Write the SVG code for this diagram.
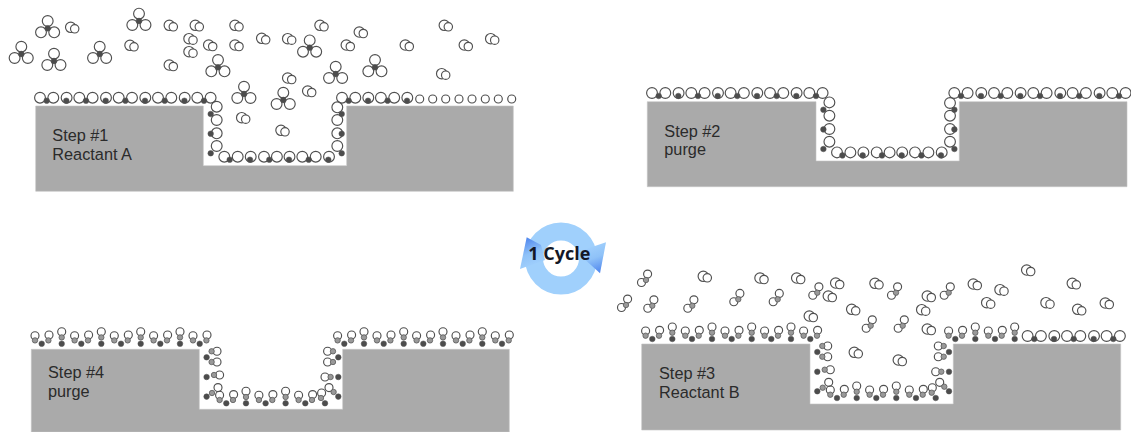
<svg xmlns="http://www.w3.org/2000/svg" width="1131" height="432" viewBox="0 0 1131 432">
<style>
.base{fill:#aaaaaa;stroke:#c4c4c4;stroke-width:.6}
.lbl{font-family:"Liberation Sans",Arial,sans-serif;font-size:16.3px;fill:#2b2b2b}
.r{fill:none;stroke:#505050;stroke-width:1.15}
.w{fill:#fff;stroke:#505050;stroke-width:1.15}
.d{fill:#4c4c4c;stroke:#555;stroke-width:.5}
.m{fill:#999;stroke:#5a5a5a;stroke-width:.8}
.cyc{font-family:"Open Sans","Liberation Sans",sans-serif;font-weight:700;font-size:18px;fill:#141826}
</style>
<defs>
<linearGradient id="hl" x1=".3" y1="0" x2=".6" y2="1"><stop offset="0" stop-color="#4f86ee"/><stop offset=".5" stop-color="#8fc2f8"/><stop offset="1" stop-color="#a4d2fd"/></linearGradient>
<linearGradient id="hr" x1=".4" y1="0" x2=".7" y2="1"><stop offset="0" stop-color="#a4d2fd"/><stop offset=".5" stop-color="#8fc2f8"/><stop offset="1" stop-color="#4f86ee"/></linearGradient>
<g id="g"><circle class="r" r="5.2"/><circle class="w" cx="4" cy="1.5" r="4.2"/></g>
<g id="t"><circle class="r" cy="-7.3" r="5.4"/><circle class="r" cx="-6.7" cy="4" r="5.4"/><circle class="r" cx="6.5" cy="4" r="5.4"/><circle class="d" r="2.9"/></g>
<g id="s"><circle class="r" cx="1.6" cy="-5.9" r="4"/><circle class="r" cx="-4.5" cy="2.5" r="4"/><circle class="m" r="2.7"/></g>
<g id="a1"><circle class="r" cx="-6.7" cy="-3" r="5.4"/><circle class="r" cx="6.6" cy="-3" r="5.4"/><circle class="d" r="2.8"/></g>
<g id="a2"><circle class="r" cx=".3" cy="-3" r="5.4"/><circle class="d" r="2.8"/></g>
<g id="b1"><circle class="r" cx="-6.7" cy="-8" r="4"/><circle class="m" cx="-6.7" cy="-3.3" r="2.7"/><circle class="r" cx="7.3" cy="-8.7" r="4"/><circle class="m" cx="6.7" cy="-3.3" r="2.7"/><circle class="d" r="2.8"/></g>
<g id="b2"><circle class="r" cy="-12" r="4"/><circle class="m" cy="-6.3" r="2.7"/><circle class="d" r="2.8"/></g>
<g id="ta">
<circle class="r" cx="13.4" cy=".7" r="5.4"/><circle class="r" cx="13.4" cy="14" r="5.4"/><circle class="r" cx="13.4" cy="27.3" r="5.4"/><circle class="r" cx="13.4" cy="40" r="5.4"/>
<circle class="d" cx="7.4" cy="8" r="2.8"/><circle class="d" cx="7.4" cy="27.7" r="2.8"/><circle class="d" cx="7.4" cy="47.3" r="2.8"/>
<circle class="r" cx="21" cy="50.7" r="5.4"/><circle class="r" cx="34.4" cy="50.7" r="5.4"/><circle class="r" cx="47.4" cy="50.7" r="5.4"/><circle class="r" cx="60.7" cy="50.7" r="5.4"/><circle class="r" cx="73.6" cy="50.7" r="5.4"/><circle class="r" cx="86.2" cy="50.7" r="5.4"/><circle class="r" cx="99" cy="50.7" r="5.4"/><circle class="r" cx="112.4" cy="50.7" r="5.4"/><circle class="r" cx="125.7" cy="50.7" r="5.4"/>
<circle class="d" cx="26.4" cy="53.7" r="2.8"/><circle class="d" cx="46.7" cy="53.7" r="2.8"/><circle class="d" cx="66" cy="53.7" r="2.8"/><circle class="d" cx="85.7" cy="53.7" r="2.8"/><circle class="d" cx="105.4" cy="53.7" r="2.8"/><circle class="d" cx="125" cy="53.7" r="2.8"/>
<circle class="r" cx="134" cy="1.3" r="5.4"/><circle class="r" cx="134" cy="14" r="5.4"/><circle class="r" cx="134" cy="27.3" r="5.4"/><circle class="r" cx="134" cy="40" r="5.4"/>
<circle class="d" cx="138.4" cy="8" r="2.8"/><circle class="d" cx="138.4" cy="27.7" r="2.8"/><circle class="d" cx="138.4" cy="47.3" r="2.8"/>
</g>
<g id="tb">
<circle class="r" cx="17.7" cy="2" r="4"/><circle class="r" cx="17.7" cy="12.7" r="4"/><circle class="m" cx="12.3" cy="2" r="2.7"/><circle class="m" cx="12.3" cy="12.7" r="2.7"/><circle class="d" cx="7.3" cy="8" r="2.8"/>
<circle class="r" cx="20.3" cy="25.7" r="4"/><circle class="m" cx="14.7" cy="25.7" r="2.7"/><circle class="d" cx="7.3" cy="27.7" r="2.8"/>
<circle class="r" cx="18.7" cy="38.3" r="4"/><circle class="m" cx="12.7" cy="43.7" r="2.7"/><circle class="d" cx="7.3" cy="47.3" r="2.8"/>
<use href="#b1" x="27" y="54"/><use href="#b2" x="46.7" y="54"/><use href="#b1" x="66.3" y="54"/><use href="#b2" x="86.3" y="54"/><use href="#b1" x="106" y="54"/>
<circle class="r" cx="122.3" cy="43.7" r="4"/><circle class="m" cx="121.7" cy="48.7" r="2.7"/><circle class="d" cx="125.7" cy="54" r="2.8"/>
<circle class="r" cx="128.3" cy="2" r="4"/><circle class="r" cx="128.3" cy="12.7" r="4"/><circle class="m" cx="133.7" cy="2" r="2.7"/><circle class="m" cx="133.7" cy="12.7" r="2.7"/><circle class="d" cx="139" cy="8" r="2.8"/>
<circle class="r" cx="125.7" cy="27.7" r="4"/><circle class="m" cx="131.3" cy="27.7" r="2.7"/><circle class="d" cx="139" cy="27.7" r="2.8"/>
<circle class="r" cx="129.7" cy="38.3" r="4"/><circle class="m" cx="134.3" cy="42.7" r="2.7"/><circle class="d" cx="139" cy="47.3" r="2.8"/>
</g>
</defs>
<rect width="1131" height="432" fill="#fff"/>

<g id="step1">
<path class="base" d="M35.7 106H203.3V165.7H346.7V106H513.3V191.3H35.7Z"/>
<use href="#a1" x="46.7" y="100.7"/><use href="#a2" x="66.3" y="100.7"/><use href="#a1" x="86" y="100.7"/><use href="#a2" x="105.7" y="100.7"/><use href="#a1" x="125.4" y="100.7"/><use href="#a2" x="145" y="100.7"/><use href="#a1" x="164.7" y="100.7"/><use href="#a2" x="184.4" y="100.7"/><use href="#a1" x="204" y="100.7"/>
<use href="#ta" x="203.3" y="106"/>
<use href="#a1" x="348.7" y="100.7"/><use href="#a2" x="368" y="100.7"/><use href="#a1" x="387.6" y="100.7"/><use href="#a2" x="407" y="100.7"/>
<circle class="r" cx="419.7" cy="99" r="4"/><circle class="r" cx="432.7" cy="99" r="4"/><circle class="r" cx="445.7" cy="99" r="4"/><circle class="r" cx="459" cy="99" r="4"/><circle class="r" cx="472" cy="99" r="4"/><circle class="r" cx="485.3" cy="99" r="4"/><circle class="r" cx="498.3" cy="99" r="4"/><circle class="r" cx="511.7" cy="99" r="4"/>
<use href="#t" x="47.7" y="28.3"/><use href="#t" x="139" y="21"/><use href="#t" x="21.3" y="54"/><use href="#t" x="54" y="61"/><use href="#t" x="99.7" y="54"/><use href="#t" x="218" y="67.3"/><use href="#t" x="244" y="94"/><use href="#t" x="309.7" y="47.7"/><use href="#t" x="335.7" y="74"/><use href="#t" x="375" y="67.3"/><use href="#t" x="283.3" y="100"/>
<use href="#g" x="70.7" y="27.3"/><use href="#g" x="130" y="45.3"/><use href="#g" x="169.3" y="25.3"/><use href="#g" x="195.3" y="25.3"/><use href="#g" x="189" y="38.7"/><use href="#g" x="189" y="51.7"/><use href="#g" x="208.7" y="45"/><use href="#g" x="235" y="25.3"/><use href="#g" x="235" y="45"/><use href="#g" x="261.7" y="38.3"/><use href="#g" x="169.3" y="65"/><use href="#g" x="241.7" y="117.7"/><use href="#g" x="287.7" y="38.7"/><use href="#g" x="320" y="25.3"/><use href="#g" x="359.3" y="32"/><use href="#g" x="346.3" y="45"/><use href="#g" x="405.3" y="45"/><use href="#g" x="444.3" y="25.3"/><use href="#g" x="464.3" y="45"/><use href="#g" x="490.7" y="38.7"/><use href="#g" x="287.7" y="78"/><use href="#g" x="307.7" y="91"/><use href="#g" x="441.7" y="73.7"/><use href="#g" x="281" y="130.3"/>
<text class="lbl" x="52.3" y="141">Step #1</text><text class="lbl" x="52.3" y="159.5">Reactant A</text>
</g>

<g id="step2">
<path class="base" d="M647.3 101.7H816V161H959.3V101.7H1127V186.7H647.3Z"/>
<use href="#a1" x="658.7" y="96"/><use href="#a2" x="678.3" y="96"/><use href="#a1" x="698" y="96"/><use href="#a2" x="717.7" y="96"/><use href="#a1" x="737.3" y="96"/><use href="#a2" x="757" y="96"/><use href="#a1" x="776.7" y="96"/><use href="#a2" x="796.3" y="96"/><use href="#a1" x="816" y="96"/>
<use href="#ta" x="816" y="101.7"/>
<use href="#a1" x="961" y="96"/><use href="#a2" x="981" y="96"/><use href="#a1" x="1000.7" y="96"/><use href="#a2" x="1020.3" y="96"/><use href="#a1" x="1040" y="96"/><use href="#a2" x="1060" y="96"/><use href="#a1" x="1079.3" y="96"/><use href="#a2" x="1099.3" y="96"/><use href="#a1" x="1119" y="96"/>
<text class="lbl" x="664.3" y="136.7">Step #2</text><text class="lbl" x="664.3" y="155">purge</text>
</g>

<g id="step3">
<path class="base" d="M641.7 344H810V404H953.3V344H1120.7V430H641.7Z"/>
<use href="#b1" x="652.3" y="339"/><use href="#b2" x="672.3" y="339"/><use href="#b1" x="692" y="339"/><use href="#b2" x="712" y="339"/><use href="#b1" x="731.7" y="339"/><use href="#b2" x="751.7" y="339"/><use href="#b1" x="771.3" y="339"/><use href="#b2" x="791" y="339"/><use href="#b1" x="810.3" y="339"/>
<use href="#tb" x="810" y="344"/>
<use href="#b1" x="955.3" y="339"/><use href="#b2" x="975.3" y="339"/><use href="#b1" x="995" y="339"/><use href="#b2" x="1014.7" y="339"/>
<use href="#a1" x="1034.3" y="339"/><use href="#a2" x="1054" y="339"/><use href="#a1" x="1073.7" y="339"/><use href="#a2" x="1093.7" y="339"/><use href="#a1" x="1113.3" y="339"/>
<use href="#s" x="646" y="280"/><use href="#s" x="626" y="305"/><use href="#s" x="652.3" y="305.7"/><use href="#s" x="692.3" y="305.7"/><use href="#s" x="738.3" y="299.3"/><use href="#s" x="777.7" y="299.3"/><use href="#s" x="817.3" y="292.7"/><use href="#s" x="896" y="292.7"/><use href="#s" x="948.7" y="292.7"/><use href="#s" x="902.7" y="325.7"/><use href="#s" x="870.7" y="325.7"/>
<use href="#g" x="703.3" y="276.3"/><use href="#g" x="760" y="278"/><use href="#g" x="796.7" y="278"/><use href="#g" x="835.7" y="283"/><use href="#g" x="828.3" y="296"/><use href="#g" x="809.3" y="316"/><use href="#g" x="851.7" y="309.3"/><use href="#g" x="854.3" y="352.3"/><use href="#g" x="875" y="283.3"/><use href="#g" x="927.3" y="296"/><use href="#g" x="921.7" y="309.7"/><use href="#g" x="927.3" y="329"/><use href="#g" x="898.3" y="360"/><use href="#g" x="973.3" y="284"/><use href="#g" x="1000" y="289.7"/><use href="#g" x="986.7" y="302.7"/><use href="#g" x="1026.7" y="270"/><use href="#g" x="1072.3" y="283.3"/><use href="#g" x="1046" y="302.7"/><use href="#g" x="1077.7" y="309.3"/><use href="#g" x="1105.3" y="303"/>
<text class="lbl" x="659" y="379">Step #3</text><text class="lbl" x="659" y="397.7">Reactant B</text>
</g>

<g id="step4">
<path class="base" d="M31.3 349.3H199.3V409.3H342.7V349.3H509.3V432H31.3Z"/>
<use href="#b1" x="41.7" y="343.7"/><use href="#b2" x="61.7" y="343.7"/><use href="#b1" x="81.3" y="343.7"/><use href="#b2" x="101.3" y="343.7"/><use href="#b1" x="121" y="343.7"/><use href="#b2" x="140.7" y="343.7"/><use href="#b1" x="160.3" y="343.7"/><use href="#b2" x="180" y="343.7"/><use href="#b1" x="199.7" y="343.7"/>
<use href="#tb" x="199.3" y="349.3"/>
<use href="#b1" x="344.3" y="343.7"/><use href="#b2" x="364" y="343.7"/><use href="#b1" x="383.7" y="343.7"/><use href="#b2" x="403.7" y="343.7"/><use href="#b1" x="423.3" y="343.7"/><use href="#b2" x="443" y="343.7"/><use href="#b1" x="462.7" y="343.7"/><use href="#b2" x="482.3" y="343.7"/><use href="#b1" x="502" y="343.7"/>
<text class="lbl" x="48" y="378.3">Step #4</text><text class="lbl" x="48" y="397.3">purge</text>
</g>

<g id="cycle">
<circle cx="561" cy="258.5" r="27" fill="none" stroke="#a0d0fc" stroke-width="18"/>
<path d="M526.7 237.3L520 269L545 260L541 245Z" fill="url(#hl)"/>
<path d="M606 242.3L600 273.3L580 255L583 250Z" fill="url(#hr)"/>
<text class="cyc" x="528.3" y="260">1 Cycle</text>
</g>
<g id="connectors"/>
</svg>
